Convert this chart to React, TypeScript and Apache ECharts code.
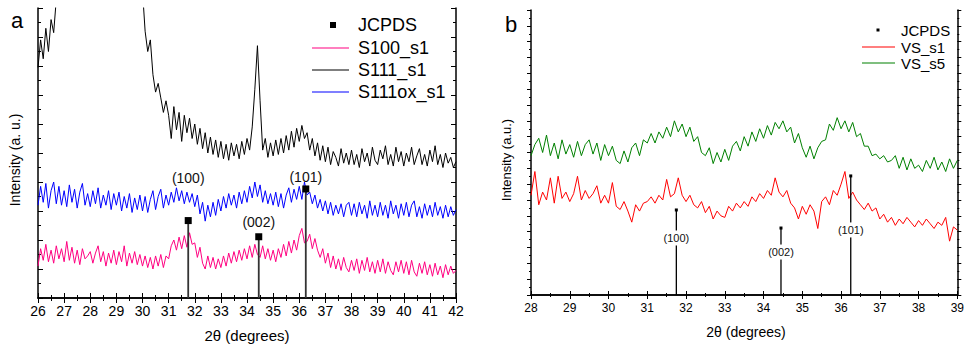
import React, { useEffect, useRef } from "react";
import * as echarts from "echarts";

// ---------- data ----------
const LEFT_START = 26;
const RIGHT_START = 28;
const STEP = 0.1;

// panel a (26.0 .. 42.0, step 0.1)
const S111_s1 = [
  7.95, 8.9, 8.25, 9.3, 8.5, 9.6, 9.15, 10.3,
  11.5, 13, 14, 14, 14, 14, 14, 14, 14, 14, 14, 14, 14, 14, 14, 14,
  14, 14, 14, 14, 14, 14, 14, 14, 14, 14, 14, 14, 14, 14, 14, 14,
  10.6, 9.2, 8.5, 8.9, 7.7, 7.1, 7.4, 6.9, 6.4, 6.8,
  6.3, 5.5, 6.6, 5.8, 6.4, 5.4, 6.3, 5.7, 6.2, 5.5,
  6.0, 5.3, 5.85, 5.15, 5.7, 5.0, 5.55, 4.95, 5.45, 4.85,
  5.4, 4.8, 5.3, 4.75, 5.35, 4.9, 5.3, 4.8, 5.4, 4.95,
  5.5, 5.1, 5.9, 7.2, 8.7, 6.8, 5.1, 5.5, 4.85, 5.35,
  4.9, 5.45, 4.95, 5.5, 5.0, 5.6, 5.1, 5.75, 5.2, 5.85,
  5.4, 5.95, 5.5, 5.7, 5.1, 5.5, 4.9, 5.35, 4.75, 5.25,
  4.7, 5.2, 4.6, 5.05, 4.85, 4.55, 5.15, 4.65, 5.0, 4.6,
  5.1, 4.6, 4.95, 4.5, 5.15, 4.7, 5.0, 4.55, 5.2, 4.75,
  4.6, 5.1, 4.8, 5.25, 4.6, 4.95, 4.55, 5.2, 4.7, 5.05,
  4.55, 5.0, 4.7, 5.2, 4.6, 4.9, 5.15, 4.6, 4.95, 4.55,
  5.1, 4.7, 5.25, 4.6, 4.95, 4.5, 5.0, 4.65, 4.85, 4.5,
  4.7,
];

const S111ox_s1 = [
  3.2, 3.85, 3.3, 3.95, 3.1, 3.7, 4.0, 3.25, 3.85, 3.2,
  3.7, 3.15, 3.9, 3.3, 3.75, 3.1, 3.65, 3.95, 3.2, 3.6,
  3.15, 3.7, 3.25, 3.8, 3.1, 3.55, 3.2, 3.7, 3.05, 3.6,
  3.2, 3.65, 3.0, 3.5, 3.1, 3.6, 2.95, 3.45, 3.05, 3.55,
  3.0, 3.5, 2.95, 3.4, 3.7, 3.05, 3.5, 3.75, 3.1, 3.55,
  3.2, 3.65, 3.3, 3.8, 3.35, 3.7, 3.25, 3.65, 3.3, 3.6,
  3.15, 3.55, 2.9, 3.3, 2.65, 3.2, 2.8, 3.3, 2.85, 3.4,
  3.0, 3.5, 3.1, 3.6, 3.2, 3.55, 3.1, 3.65, 3.25, 3.7,
  3.3, 3.85, 3.45, 4.0, 3.5, 3.9, 3.3, 3.7, 3.25, 3.6,
  3.2, 3.65, 3.15, 3.6, 3.1, 3.55, 3.8, 3.3, 3.75, 3.4,
  3.85, 3.4, 4.0, 3.55, 3.65, 3.25, 3.55, 3.1, 3.4, 3.0,
  3.35, 2.9, 3.3, 2.85, 3.2, 2.9, 3.25, 2.8, 3.2, 3.3,
  2.85, 3.25, 2.8, 3.3, 2.9, 3.2, 2.75, 3.35, 2.85, 3.2,
  2.8, 3.3, 2.85, 3.2, 2.75, 3.35, 2.9, 3.2, 2.75, 3.25,
  2.85, 3.3, 2.8, 3.2, 3.35, 2.8, 3.15, 2.75, 3.25, 2.85,
  3.2, 2.8, 3.3, 2.85, 3.15, 2.75, 3.2, 2.8, 3.15, 2.85,
  3.05,
];

const S100_s1 = [
  1.1, 1.7, 1.3, 1.85, 1.25, 1.65, 1.2, 1.8, 1.35, 1.7,
  1.25, 1.95, 1.3, 1.75, 1.2, 1.65, 1.15, 1.7, 1.35, 1.45,
  1.6, 1.2, 1.55, 1.8, 1.25, 1.6, 1.1, 1.55, 1.2, 1.65,
  1.15, 1.6, 1.25, 1.8, 1.1, 1.55, 1.2, 1.6, 1.15, 1.5,
  1.1, 1.45, 1.05, 1.4, 1.0, 1.45, 1.1, 1.5, 1.05, 1.45,
  1.35, 1.8, 2.0, 1.65, 2.1, 1.7, 2.15, 1.75, 2.25, 1.85,
  1.9, 1.4, 1.75, 1.2, 1.0, 1.45, 1.05, 1.4, 1.0, 1.35,
  1.05, 1.45, 1.1, 1.55, 1.2, 1.6, 1.25, 1.65, 1.3, 1.7,
  1.35, 1.8, 1.4, 1.85, 1.5, 1.4, 1.8, 1.35, 1.7, 1.3,
  1.65, 1.25, 1.7, 1.4, 1.85, 1.45, 1.95, 1.55, 2.0, 1.65,
  2.15, 2.4, 1.9, 1.95, 2.2, 1.7, 2.05, 1.65, 1.4, 1.7,
  1.2, 1.55, 1.05, 1.45, 1.0, 1.35, 0.95, 1.4, 1.05, 0.9,
  1.3, 0.95, 1.35, 0.85, 1.3, 0.95, 1.4, 0.9, 1.25, 0.85,
  1.3, 0.9, 1.35, 0.85, 1.25, 0.95, 0.8, 1.25, 0.9, 1.3,
  0.85, 1.25, 0.8, 1.3, 0.9, 0.75, 1.2, 0.85, 1.25, 0.8,
  1.15, 0.75, 1.2, 0.8, 1.1, 0.7, 1.15, 0.8, 1.1, 0.85,
  0.95,
];

// panel b (28.0 .. 39.0, step 0.1)
const VS_s5 = [
  8.8, 9.5, 9.9, 9.0, 10.1, 8.8, 9.6, 8.6, 9.8, 8.9,
  9.5, 8.7, 9.7, 8.8, 9.5, 9.8, 8.9, 9.6, 8.5, 9.5,
  8.8, 9.4, 8.5, 8.3, 9.1, 8.4, 9.3, 9.6, 8.8, 9.8,
  9.6, 10.2, 9.6, 10.3, 9.9, 10.6, 10.0, 11.0, 10.3, 10.8,
  10.0, 10.6, 9.7, 10.0, 9.0, 8.8, 9.3, 8.3, 9.0, 8.4,
  9.2, 8.5, 9.4, 9.7, 9.1, 10.0, 9.4, 10.3, 9.7, 10.5,
  9.9, 10.7, 10.1, 10.9, 10.5, 11.0, 10.3, 10.6, 9.6, 10.2,
  9.3, 8.7, 9.4, 8.6, 9.3, 9.7, 9.8, 10.8, 10.4, 11.2,
  10.5, 11.0, 10.3, 10.9, 10.0, 10.2, 9.4, 9.4, 8.8, 8.9,
  8.6, 8.8, 8.4, 8.5, 8.8, 8.0, 8.7, 7.9, 8.6, 8.0,
  8.2, 7.8, 8.5, 8.0, 8.7, 7.9, 8.4, 7.8, 8.6, 8.0,
  8.5,
];

const VS_s1 = [
  6.3, 7.8, 5.7, 6.5, 6.0, 7.4, 5.8, 7.5, 6.1, 6.5,
  5.9, 6.4, 7.5, 6.0, 6.6, 6.1, 6.4, 6.9, 5.8, 6.3,
  5.8, 7.1, 5.6, 5.4, 5.9, 5.3, 4.6, 5.7, 5.3, 5.8,
  5.9, 6.2, 5.8, 6.3, 6.0, 7.3, 6.2, 6.4, 7.4, 6.3,
  5.9, 6.3, 5.7, 5.5, 5.9, 5.2, 5.6, 4.8, 5.3, 5.0,
  4.9, 5.6, 5.3, 5.8, 5.5, 5.9, 5.6, 6.2, 5.9, 6.4,
  6.1, 6.6, 6.3, 7.4, 6.5, 6.2, 6.6, 5.8, 5.5, 4.8,
  5.6, 5.1, 5.7, 5.3, 4.2, 5.9, 6.2, 5.7, 6.6, 6.3,
  7.0, 7.8, 6.1, 6.5, 6.0, 5.7, 5.4, 5.8, 5.3, 5.5,
  4.8, 5.1, 4.6, 4.9, 4.4, 4.8, 4.5, 4.9, 4.6, 4.3,
  4.7, 4.4, 4.8, 4.5, 4.2, 4.6, 4.4, 4.9, 3.4, 4.3,
  4.1,
];

// JCPDS reference reflections
const jcpdsAngles = [31.75, 34.45, 36.25];
const jcpdsLabels = ["(100)", "(002)", "(101)"];
const jcpdsHeightsA = [2.67, 2.11, 3.76];
const jcpdsHeightsB = [5.37, 4.23, 7.52];
const labelOffsetA = [-43, -15, -12];
const labelOffsetB = [28, 24, 54];

const xTicksA = { min: 26, max: 42, interval: 1 };
const xTicksB = { min: 28, max: 39, interval: 1 };

const FONT = "'Liberation Sans', Arial, Helvetica, sans-serif";

function toPairs(start: number, ys: number[]) {
  return ys.map((y, i) => [Math.round((start + i * STEP) * 100) / 100, y]);
}

export default function App() {
  const ref = useRef<HTMLDivElement>(null);

  useEffect(() => {
    if (!ref.current) return;
    const chart = echarts.init(ref.current, undefined, { renderer: "svg" });

    const axisLine = { show: true, lineStyle: { color: "#000", width: 1.5 } };

    const xBase = (grid: number, r: any, inside: boolean, pos: string, labels: boolean, fs: number, margin: number) => ({
      type: "value",
      gridIndex: grid,
      position: pos,
      min: r.min,
      max: r.max,
      interval: r.interval,
      axisLine,
      axisTick: { show: true, inside, length: inside ? 5 : 4, lineStyle: { color: "#000", width: 1 } },
      minorTick: { show: true, splitNumber: 2, length: inside ? 3 : 2, lineStyle: { color: "#000", width: 1 } },
      axisLabel: { show: labels, color: "#000", fontSize: fs, fontFamily: FONT, margin },
      splitLine: { show: false },
    });

    const yBase = (grid: number, max: number, inside: boolean, pos: string) => ({
      type: "value",
      gridIndex: grid,
      position: pos,
      min: 0,
      max,
      interval: 1,
      axisLine,
      axisTick: { show: true, inside, length: inside ? 5 : 4, lineStyle: { color: "#000", width: 1 } },
      minorTick: { show: true, splitNumber: 2, length: inside ? 3 : 2, lineStyle: { color: "#000", width: 1 } },
      axisLabel: { show: false },
      splitLine: { show: false },
    });

    const stickSeries = (xi: number, yi: number, heights: number[], offsets: number[], opts: any) => ({
      type: "custom",
      xAxisIndex: xi,
      yAxisIndex: yi,
      z: 5,
      data: jcpdsAngles.map((a, i) => [a, heights[i]]),
      renderItem: (params: any, api: any) => {
        const i = params.dataIndex;
        const x = api.value(0);
        const h = api.value(1);
        const base = api.coord([x, 0]);
        const top = api.coord([x, h]);
        const s = opts.marker;
        return {
          type: "group",
          children: [
            {
              type: "line",
              shape: { x1: base[0], y1: base[1], x2: top[0], y2: top[1] },
              style: { stroke: opts.stroke, lineWidth: opts.lineWidth },
            },
            {
              type: "rect",
              shape: { x: top[0] - s / 2, y: top[1] - s / 2, width: s, height: s },
              style: { fill: "#000" },
            },
            {
              type: "text",
              x: top[0],
              y: top[1] + offsets[i],
              z2: 10,
              style: {
                text: jcpdsLabels[i],
                align: "center",
                verticalAlign: "middle",
                fontSize: opts.fontSize,
                fontFamily: FONT,
                fill: "#111",
                backgroundColor: opts.bg,
                padding: opts.bg ? [2, 1, 2, 1] : 0,
              },
            },
          ],
        };
      },
    });

    const lineSeries = (name: string, xi: number, yi: number, start: number, ys: number[], color: string) => ({
      name,
      type: "line",
      xAxisIndex: xi,
      yAxisIndex: yi,
      data: toPairs(start, ys),
      showSymbol: false,
      symbol: "none",
      clip: true,
      lineStyle: { color, width: 1 },
      itemStyle: { color },
    });

    const legendLine = (x1: number, x2: number, y: number, color: string) => ({
      type: "line",
      shape: { x1, y1: y, x2, y2: y },
      style: { stroke: color, lineWidth: 1.2 },
    });
    const legendText = (x: number, y: number, text: string, fs: number) => ({
      type: "text",
      x,
      y,
      style: { text, fontSize: fs, fontFamily: FONT, fill: "#000", align: "left", verticalAlign: "middle" },
    });

    chart.setOption({
      animation: false,
      backgroundColor: "#fff",
      grid: [
        { left: 38, top: 8, width: 418, height: 290 },
        { left: 531, top: 10, width: 430, height: 285 },
      ],
      xAxis: [
        xBase(0, xTicksA, true, "bottom", true, 14, 6),
        xBase(0, xTicksA, true, "top", false, 14, 6),
        xBase(1, xTicksB, false, "bottom", true, 12, 7),
        xBase(1, xTicksB, false, "top", false, 12, 7),
      ],
      yAxis: [
        yBase(0, 10, true, "left"),
        yBase(0, 10, true, "right"),
        yBase(1, 18, false, "left"),
        yBase(1, 18, false, "right"),
      ],
      series: [
        lineSeries("S100_s1", 0, 0, LEFT_START, S100_s1, "#ff0080"),
        lineSeries("S111_s1", 0, 0, LEFT_START, S111_s1, "#000000"),
        lineSeries("S111ox_s1", 0, 0, LEFT_START, S111ox_s1, "#0000ff"),
        stickSeries(0, 0, jcpdsHeightsA, labelOffsetA, { stroke: "#333", lineWidth: 1.8, marker: 7, fontSize: 14, bg: null }),
        lineSeries("VS_s5", 2, 2, RIGHT_START, VS_s5, "#008000"),
        lineSeries("VS_s1", 2, 2, RIGHT_START, VS_s1, "#ff0000"),
        stickSeries(2, 2, jcpdsHeightsB, labelOffsetB, { stroke: "#000", lineWidth: 1.3, marker: 3, fontSize: 11, bg: "#fff" }),
      ],
      graphic: [
        // panel letters
        { type: "text", x: 17, y: 20, style: { text: "a", fontSize: 22, fontFamily: FONT, fill: "#000", align: "center", verticalAlign: "middle" } },
        { type: "text", x: 511, y: 24, style: { text: "b", fontSize: 22, fontFamily: FONT, fill: "#000", align: "center", verticalAlign: "middle" } },
        // axis titles
        { type: "text", x: 15, y: 160, rotation: Math.PI / 2, style: { text: "Intensity (a. u.)", fontSize: 14, fontFamily: FONT, fill: "#000", align: "center", verticalAlign: "middle" } },
        { type: "text", x: 506, y: 160, rotation: Math.PI / 2, style: { text: "Intensity (a.u.)", fontSize: 13, fontFamily: FONT, fill: "#000", align: "center", verticalAlign: "middle" } },
        { type: "text", x: 247, y: 335, style: { text: "2θ (degrees)", fontSize: 15, fontFamily: FONT, fill: "#000", align: "center", verticalAlign: "middle" } },
        { type: "text", x: 746, y: 332, style: { text: "2θ (degrees)", fontSize: 14, fontFamily: FONT, fill: "#000", align: "center", verticalAlign: "middle" } },
        // legend a
        { type: "rect", shape: { x: 330, y: 22, width: 6, height: 6 }, style: { fill: "#000" } },
        legendText(358, 25, "JCPDS", 18),
        legendLine(312, 349, 48, "#ff0080"),
        legendText(358, 48, "S100_s1", 18),
        legendLine(312, 349, 70, "#000000"),
        legendText(358, 70, "S111_s1", 18),
        legendLine(312, 349, 92, "#0000ff"),
        legendText(358, 92, "S111ox_s1", 18),
        // legend b
        { type: "rect", shape: { x: 876.5, y: 28.5, width: 3, height: 3 }, style: { fill: "#000" } },
        legendText(901, 30, "JCPDS", 15),
        legendLine(862, 895, 47, "#ff0000"),
        legendText(901, 47, "VS_s1", 15),
        legendLine(862, 895, 63, "#008000"),
        legendText(901, 63, "VS_s5", 15),
      ],
    });

    return () => chart.dispose();
  }, []);

  return (
    <div
      ref={ref}
      style={{ position: "fixed", left: 0, top: 0, width: 967, height: 346, background: "#fff" }}
    />
  );
}
